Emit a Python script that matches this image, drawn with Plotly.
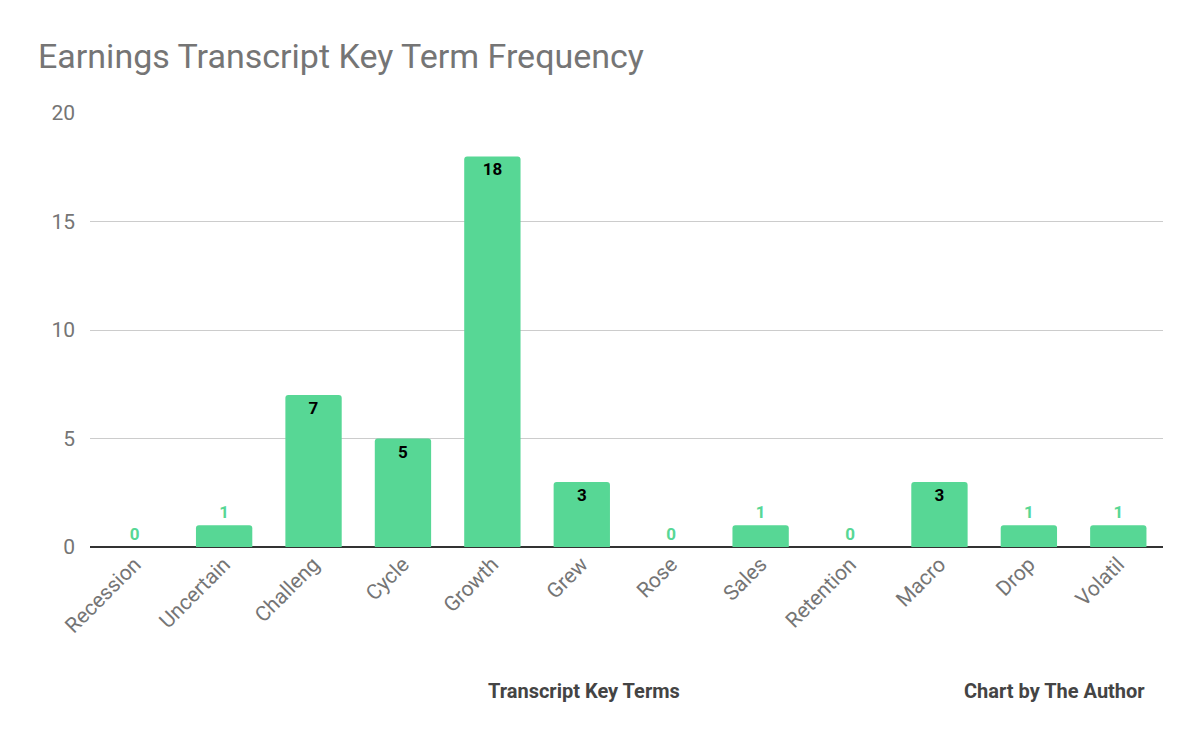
import plotly.graph_objects as go

terms = ["Recession","Uncertain","Challeng","Cycle","Growth","Grew","Rose","Sales","Retention","Macro","Drop","Volatil"]
counts = [0,1,7,5,18,3,0,1,0,3,1,1]
y_ticks = [0,5,10,15,20]

green = "#57d795"
pos = ["inside" if v >= 3 else "outside" for v in counts]
tcol = ["#000000" if v >= 3 else green for v in counts]

fig = go.Figure(go.Bar(
    x=terms, y=counts, marker_color=green, text=["<b>%d</b>" % v for v in counts],
    textposition=pos, insidetextanchor="end", cliponaxis=False,
    textfont=dict(family="Roboto", size=17, color=tcol), textangle=0,
    marker_line_width=0, marker_cornerradius=3,
))
fig.update_layout(
    width=1200, height=741, plot_bgcolor="white", paper_bgcolor="white",
    margin=dict(l=82, r=45, t=105, b=202),
    bargap=0.37, showlegend=False, uniformtext=dict(minsize=17, mode="show"),
    title=dict(text="Earnings Transcript Key Term Frequency", x=0.025, xanchor="left",
               y=0.935, yanchor="middle", font=dict(family="Roboto", size=34, color="#757575")),
    font=dict(family="Roboto", color="#757575"),
    xaxis=dict(tickangle=-45, tickfont=dict(size=21, color="#757575"), showgrid=False),
    yaxis=dict(range=[0,20], tickvals=y_ticks, tickfont=dict(size=21, color="#757575"),
               gridcolor="#cccccc", zeroline=True, zerolinecolor="#333333", zerolinewidth=1.5,
               ticklen=0, ticks="", ticklabelstandoff=14),
    annotations=[
        dict(text="<b>Chart by The Author</b>", xref="paper", yref="paper",
             x=0.985, y=-(691-547)/434, xanchor="right", yanchor="middle",
             showarrow=False, font=dict(family="Roboto", size=20, color="#444444")),
        dict(text="<b>Transcript Key Terms</b>", xref="paper", yref="paper",
             x=0.46, y=-(691-547)/434, xanchor="center", yanchor="middle",
             showarrow=False, font=dict(family="Roboto", size=20, color="#444444")),
    ],
)
fig.write_html("out.html")
